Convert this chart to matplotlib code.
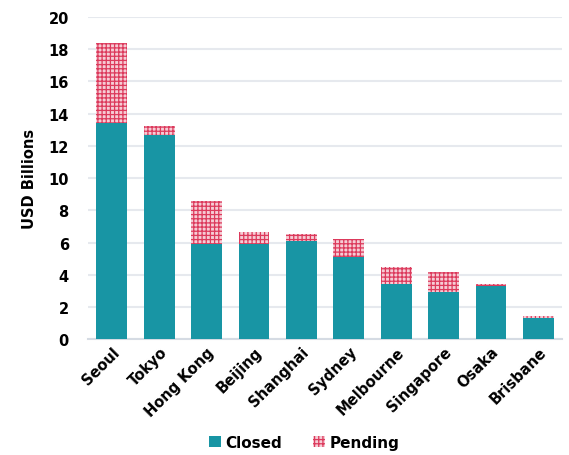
import matplotlib.pyplot as plt
import numpy as np

# deal volume by city, USD billions
cities = ["Seoul", "Tokyo", "Hong Kong", "Beijing", "Shanghai", "Sydney",
          "Melbourne", "Singapore", "Osaka", "Brisbane"]
closed = [13.4, 12.7, 5.9, 5.9, 6.1, 5.1, 3.4, 2.9, 3.3, 1.3]
pending = [5.0, 0.55, 2.7, 0.75, 0.45, 1.1, 1.1, 1.25, 0.1, 0.15]
yticks = [0, 2, 4, 6, 8, 10, 12, 14, 16, 18, 20]

teal = "#1895a4"
red = "#dc3a5c"

plt.rcParams["font.family"] = "DejaVu Sans"
plt.rcParams["font.weight"] = "bold"
plt.rcParams["hatch.linewidth"] = 0.9

fig = plt.figure(figsize=(5.69, 4.56), dpi=100)
ax = fig.add_axes([0.155, 0.254, 0.833, 0.7065])

x = np.arange(len(cities))
ax.bar(x, closed, width=0.65, color=teal, label="Closed", zorder=3)
ax.bar(x, pending, width=0.65, bottom=closed, facecolor="#f6ccd5",
       edgecolor=red, hatch="++++", linewidth=0, label="Pending", zorder=3)

ax.set_xlim(-0.5, len(cities) - 0.5)
ax.set_ylim(0, 20)
ax.set_yticks(yticks)
ax.yaxis.grid(True, color="#e6e9ee", linewidth=1.5, zorder=0)
for s in ["top", "right", "left"]:
    ax.spines[s].set_visible(False)
ax.spines["bottom"].set_color("#d5dbe3")
ax.spines["bottom"].set_linewidth(1.5)
ax.tick_params(length=0, labelsize=10.5)
ax.tick_params(axis="y", pad=14)

ax.set_xticks(x)
ax.set_xticklabels(cities, rotation=45, ha="right", rotation_mode="anchor",
                   fontsize=10.5, fontweight="bold")
ax.set_ylabel("USD Billions", fontsize=10.5, fontweight="bold", labelpad=8)

ax.legend(loc="center", bbox_to_anchor=(0.456, -0.32), ncol=2,
          frameon=False, fontsize=11, handlelength=0.8, handleheight=0.8,
          columnspacing=2.0, handletextpad=0.3)

plt.savefig("out.png", dpi=100)
